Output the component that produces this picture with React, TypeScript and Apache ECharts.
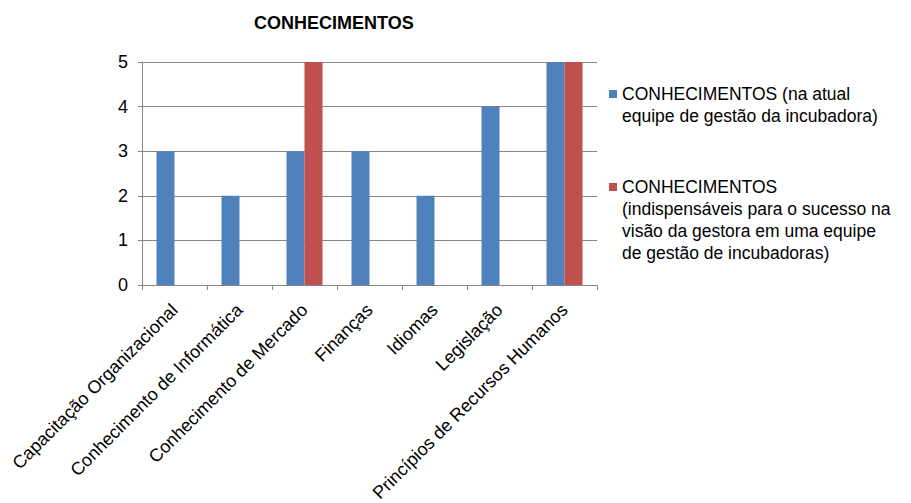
import React, { useEffect, useRef } from "react";
import * as echarts from "echarts";

const titleText = "CONHECIMENTOS";
const categories = [
  "Capacitação Organizacional",
  "Conhecimento de Informática",
  "Conhecimento de Mercado",
  "Finanças",
  "Idiomas",
  "Legislação",
  "Princípios de Recursos Humanos",
];
const seriesNames = [
  "CONHECIMENTOS (na atual equipe de gestão da incubadora)",
  "CONHECIMENTOS (indispensáveis para o sucesso na visão da gestora em uma equipe de gestão de incubadoras)",
];
const legendLines = [
  ["CONHECIMENTOS (na atual", "equipe de gestão da incubadora)"],
  [
    "CONHECIMENTOS",
    "(indispensáveis para o sucesso na",
    "visão da gestora em uma equipe",
    "de gestão de incubadoras)",
  ],
];
const atualValues = [3, 2, 3, 3, 2, 4, 5];
const indispensaveisValues = [null, null, 5, null, null, null, 5];
const yTicks = { min: 0, max: 5, interval: 1 };

const FONT = "'Liberation Sans', Arial, sans-serif";
const GRID_COLOR = "#868686";

// pad with blank lines above so the icon (centred on the block) sits on the first line
const legendText = (lines: string[]) =>
  "\u00a0\n".repeat(lines.length - 1) + lines.join("\n");

export default function App() {
  const ref = useRef<HTMLDivElement>(null);
  useEffect(() => {
    if (!ref.current) return;
    const chart = echarts.init(ref.current, null, { renderer: "svg" });
    const LH = 22;
    const legendCommon = {
      left: 609,
      padding: 0,
      icon: "rect",
      itemWidth: 8,
      itemHeight: 8,
      textStyle: { fontFamily: FONT, fontSize: 17.5, lineHeight: LH, color: "#000" },
    };
    chart.setOption({
      animation: false,
      backgroundColor: "#ffffff",
      textStyle: { fontFamily: FONT },
      title: {
        text: titleText,
        left: 254,
        top: 14,
        padding: 0,
        textStyle: { fontFamily: FONT, fontSize: 18, fontWeight: "bold", color: "#000" },
      },
      legend: [
        {
          ...legendCommon,
          data: [seriesNames[0]],
          top: 94 - 1.5 * LH,
          formatter: () => legendText(legendLines[0]),
        },
        {
          ...legendCommon,
          data: [seriesNames[1]],
          top: 187 - 3.5 * LH,
          formatter: () => legendText(legendLines[1]),
        },
      ],
      grid: {
        left: 142,
        right: 314,
        top: 62,
        bottom: 218,
        containLabel: false,
        outerBoundsMode: "none",
      },
      xAxis: {
        type: "category",
        data: categories,
        axisLine: { lineStyle: { color: GRID_COLOR, width: 1 } },
        axisTick: { show: true, length: 5, lineStyle: { color: GRID_COLOR } },
        axisLabel: {
          rotate: 45,
          interval: 0,
          margin: 22,
          align: "right",
          verticalAlign: "middle",
          fontFamily: FONT,
          fontSize: 18,
          color: "#000",
        },
      },
      yAxis: {
        type: "value",
        min: yTicks.min,
        max: yTicks.max,
        interval: yTicks.interval,
        axisLine: { show: true, lineStyle: { color: GRID_COLOR, width: 1 } },
        axisTick: { show: true, length: 4, lineStyle: { color: GRID_COLOR } },
        splitLine: { show: true, lineStyle: { color: GRID_COLOR, width: 1 } },
        axisLabel: { margin: 14, fontFamily: FONT, fontSize: 18, color: "#000" },
      },
      series: [
        {
          name: seriesNames[0],
          type: "bar",
          data: atualValues,
          barWidth: 18,
          barGap: "0%",
          itemStyle: { color: "#4F81BD" },
        },
        {
          name: seriesNames[1],
          type: "bar",
          data: indispensaveisValues,
          barWidth: 18,
          barGap: "0%",
          itemStyle: { color: "#C0504D" },
        },
      ],
    });
    return () => chart.dispose();
  }, []);
  return (
    <div
      ref={ref}
      style={{ position: "absolute", left: 0, top: 0, width: 911, height: 503 }}
    />
  );
}
